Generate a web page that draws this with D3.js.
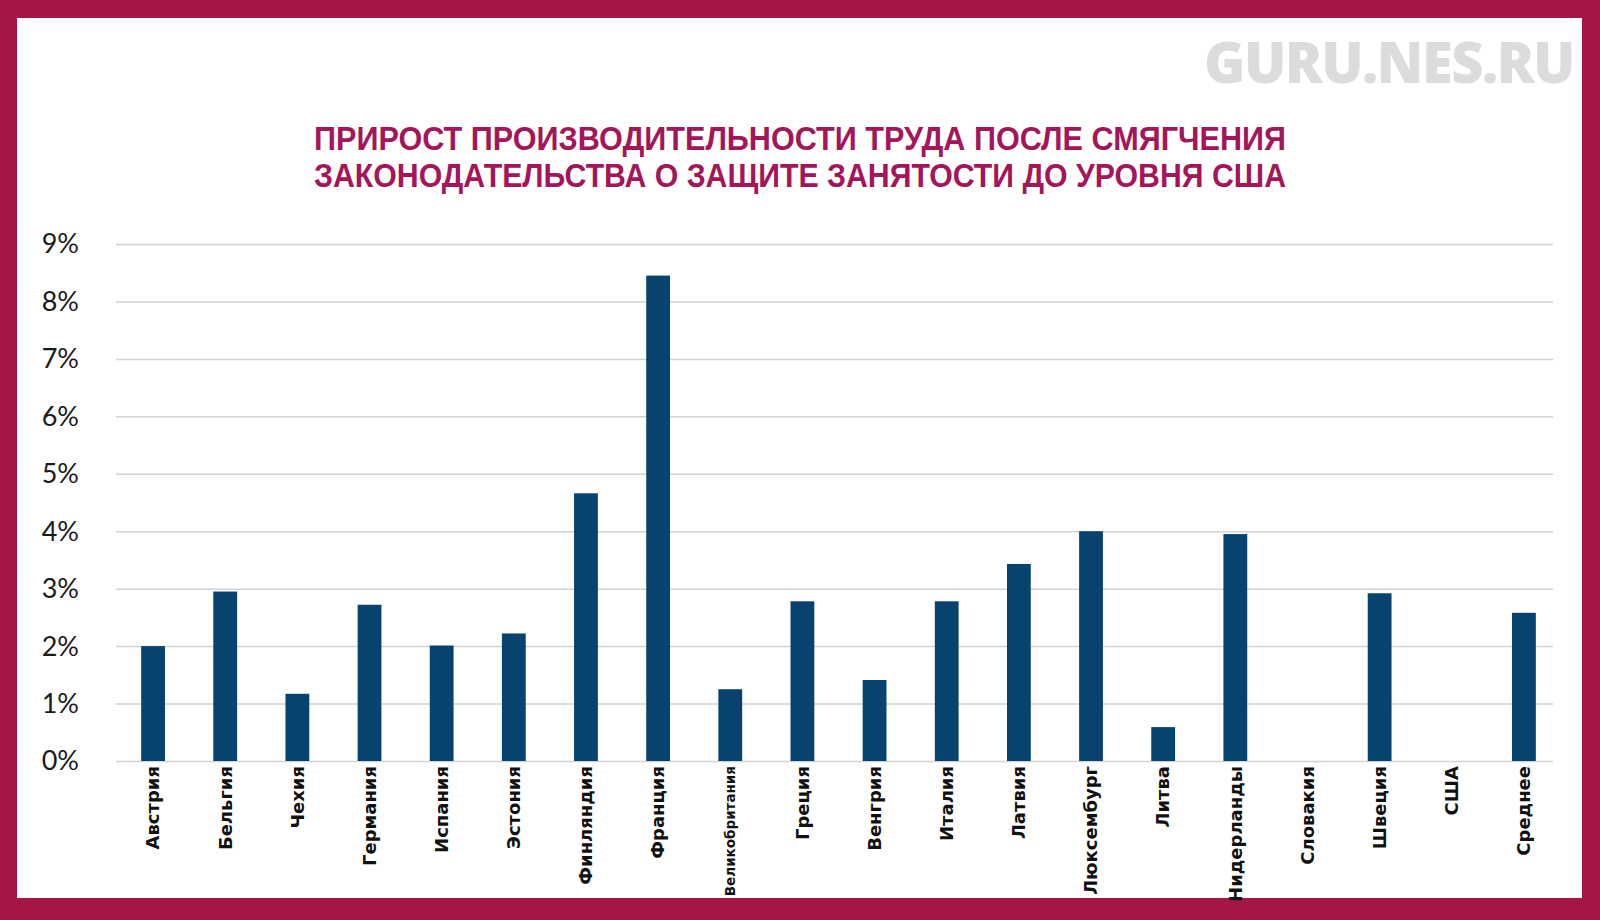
<!DOCTYPE html>
<html>
<head>
<meta charset="utf-8">
<script src="https://cdn.jsdelivr.net/npm/d3@7"></script>
<style>
  html, body { margin: 0; padding: 0; background: #fff; }
  svg { display: block; }
</style>
</head>
<body>
<div id="chart"></div>
<script>
// Productivity growth after easing employment protection to US level

var COUNTRIES = ['Австрия', 'Бельгия', 'Чехия', 'Германия', 'Испания', 'Эстония',
  'Финляндия', 'Франция', 'Великобритания', 'Греция', 'Венгрия', 'Италия',
  'Латвия', 'Люксембург', 'Литва', 'Нидерланды', 'Словакия', 'Швеция', 'США', 'Среднее'];

var GROWTH = [2.0, 2.95, 1.17, 2.72, 2.01, 2.22, 4.66, 8.45, 1.25, 2.78, 1.41, 2.78,
  3.43, 4.0, 0.59, 3.95, 0, 2.92, 0, 2.58];

var Y_TICKS = [0, 1, 2, 3, 4, 5, 6, 7, 8, 9];

var TITLE_LINES = [
  'ПРИРОСТ ПРОИЗВОДИТЕЛЬНОСТИ ТРУДА ПОСЛЕ СМЯГЧЕНИЯ',
  'ЗАКОНОДАТЕЛЬСТВА О ЗАЩИТЕ ЗАНЯТОСТИ ДО УРОВНЯ США'
];

var W = 1600, H = 920;
var BORDER = '#a31645';
var BAR = '#08426f';
var GRID_LEFT = 116, GRID_RIGHT = 1553;

var svg = d3.select('#chart').append('svg')
  .attr('width', W)
  .attr('height', H);

// frame
svg.append('rect').attr('width', W).attr('height', H).attr('fill', BORDER);
svg.append('rect')
  .attr('x', 17).attr('y', 18)
  .attr('width', 1582 - 17).attr('height', 898 - 18)
  .attr('fill', '#fff');

// watermark
svg.append('text')
  .attr('x', 1574).attr('y', 83)
  .attr('text-anchor', 'end')
  .attr('font-family', 'Open Sans, sans-serif')
  .attr('font-weight', 800)
  .attr('font-size', 56)
  .attr('letter-spacing', -1.5)
  .attr('fill', '#dcdcdc')
  .text('GURU.NES.RU');

// title (tight line metrics so the two lines don't collide)
svg.append('g').selectAll('text')
  .data(TITLE_LINES)
  .join('text')
  .attr('x', 800)
  .attr('y', function (d, i) { return 150 + i * 37; })
  .attr('text-anchor', 'middle')
  .attr('font-family', 'Liberation Sans, Arial, sans-serif')
  .attr('font-weight', 700)
  .attr('font-size', 32.5)
  .attr('textLength', 972)
  .attr('lengthAdjust', 'spacingAndGlyphs')
  .attr('fill', '#a3165a')
  .text(function (d) { return d; });

var x = d3.scaleBand()
  .domain(COUNTRIES)
  .range([117, 1560])
  .paddingInner(0.67)
  .paddingOuter(0.335);

var y = d3.scaleLinear()
  .domain([0, 9])
  .range([761, 244]);

// gridlines
svg.append('g')
  .attr('transform', 'translate(' + GRID_LEFT + ',0)')
  .call(d3.axisLeft(y).tickValues(Y_TICKS).tickSize(-(GRID_RIGHT - GRID_LEFT)).tickFormat(''))
  .call(function (g) { g.select('.domain').remove(); })
  .selectAll('line')
  .attr('stroke', '#d3d3d3')
  .attr('stroke-width', 1.5);

// y labels
svg.append('g').selectAll('text')
  .data(Y_TICKS)
  .join('text')
  .attr('x', 79)
  .attr('y', function (d) { return y(d); })
  .attr('dy', '0.35em')
  .attr('text-anchor', 'end')
  .attr('font-family', 'Lato, sans-serif')
  .attr('font-size', 27)
  .attr('fill', '#1a1a1a')
  .text(function (d) { return d + '%'; });

// bars
svg.append('g').selectAll('rect')
  .data(GROWTH)
  .join('rect')
  .attr('x', function (d, i) { return x(COUNTRIES[i]); })
  .attr('y', function (d) { return y(d); })
  .attr('width', x.bandwidth())
  .attr('height', function (d) { return y(0) - y(d); })
  .attr('fill', BAR);

// rotated category labels
svg.append('g').selectAll('text')
  .data(COUNTRIES)
  .join('text')
  .attr('transform', function (d) {
    return 'translate(' + (x(d) + x.bandwidth() / 2) + ',766) rotate(-90)';
  })
  .attr('dy', '0.35em')
  .attr('text-anchor', 'end')
  .attr('font-family', 'DejaVu Sans, sans-serif')
  .attr('font-weight', 700)
  .attr('font-size', function (d) { return d === 'Великобритания' ? 13.5 : 18; })
  .attr('fill', '#111')
  .text(function (d) { return d; });
</script>
</body>
</html>
